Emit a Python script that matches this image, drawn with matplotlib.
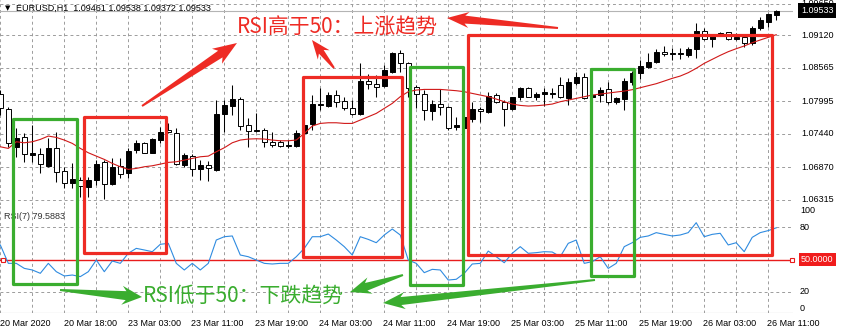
import numpy as np
import matplotlib
matplotlib.use("Agg")
import matplotlib.pyplot as plt
from matplotlib.patches import Rectangle, Polygon
from matplotlib.transforms import blended_transform_factory

plt.rcParams['font.family'] = ['Liberation Sans', 'DejaVu Sans']

# EURUSD H1 K线数据
opens = [1.08116, 1.07855, 1.07220, 1.07390, 1.07084, 1.07096, 1.06897, 1.07192, 1.06812, 1.06596,
         1.06653, 1.06540, 1.06653, 1.06954, 1.06579, 1.06891, 1.06778, 1.07163, 1.07277, 1.07118,
         1.07334, 1.07504, 1.07458, 1.06908, 1.07061, 1.06835, 1.06908, 1.06823, 1.07770, 1.07918,
         1.08025, 1.07583, 1.07487, 1.07504, 1.07294, 1.07305, 1.07232, 1.07237, 1.07447, 1.07606,
         1.07923, 1.07912, 1.08099, 1.07997, 1.07872, 1.07770, 1.08337, 1.08280, 1.08252, 1.08496,
         1.08808, 1.08638, 1.08229, 1.08116, 1.07833, 1.07940, 1.07901, 1.07549, 1.07532, 1.07691,
         1.07861, 1.07804, 1.08099, 1.07974, 1.07855, 1.08059, 1.08212, 1.08071, 1.08110, 1.08122,
         1.08269, 1.08042, 1.08309, 1.08411, 1.08059, 1.08099, 1.08195, 1.07974, 1.08031, 1.08326,
         1.08468, 1.08581, 1.08655, 1.08825, 1.08796, 1.08796, 1.08779, 1.08876, 1.09193, 1.09046,
         1.09131, 1.09165, 1.09046, 1.09080, 1.08978, 1.09233, 1.09346, 1.09461]
highs = [1.08184, 1.07901, 1.07532, 1.07447, 1.07589, 1.07192, 1.07362, 1.07475, 1.06880, 1.06937,
         1.06710, 1.06710, 1.06993, 1.06993, 1.07022, 1.07022, 1.07192, 1.07334, 1.07305, 1.07362,
         1.07560, 1.07617, 1.07532, 1.07107, 1.07096, 1.06993, 1.06976, 1.08014, 1.08014, 1.08269,
         1.08071, 1.07702, 1.07787, 1.07532, 1.07475, 1.07334, 1.07334, 1.07504, 1.07617, 1.08099,
         1.08212, 1.08156, 1.08184, 1.08071, 1.08014, 1.08638, 1.08456, 1.08439, 1.08609, 1.08836,
         1.08864, 1.08666, 1.08269, 1.08184, 1.08014, 1.08195, 1.07912, 1.07730, 1.07759, 1.07986,
         1.07901, 1.08144, 1.08139, 1.08014, 1.08071, 1.08241, 1.08229, 1.08156, 1.08212, 1.08212,
         1.08411, 1.08383, 1.08496, 1.08479, 1.08110, 1.08241, 1.08326, 1.08071, 1.08383, 1.08513,
         1.08694, 1.08819, 1.08876, 1.08933, 1.08893, 1.08893, 1.08921, 1.09318, 1.09233, 1.09120,
         1.09176, 1.09176, 1.09148, 1.09091, 1.09273, 1.09431, 1.09500, 1.09538]
lows = [1.07759, 1.07220, 1.07050, 1.06965, 1.06965, 1.06767, 1.06880, 1.06625, 1.06512, 1.06512,
        1.06370, 1.06370, 1.06568, 1.06330, 1.06568, 1.06681, 1.06681, 1.07107, 1.07107, 1.07107,
        1.07277, 1.07447, 1.06908, 1.06880, 1.06721, 1.06653, 1.06642, 1.06812, 1.07475, 1.07759,
        1.07504, 1.07220, 1.07475, 1.07220, 1.07220, 1.07220, 1.07192, 1.07220, 1.07419, 1.07504,
        1.07844, 1.07901, 1.07901, 1.07844, 1.07759, 1.07759, 1.08195, 1.08071, 1.08241, 1.08479,
        1.08496, 1.08071, 1.07872, 1.07674, 1.07674, 1.07759, 1.07504, 1.07504, 1.07447, 1.07645,
        1.07645, 1.07787, 1.07957, 1.07577, 1.07844, 1.08014, 1.08059, 1.08014, 1.07912, 1.08042,
        1.08042, 1.07929, 1.08269, 1.08031, 1.08042, 1.07986, 1.07946, 1.07946, 1.07844, 1.08269,
        1.08371, 1.08553, 1.08638, 1.08768, 1.08694, 1.08706, 1.08751, 1.08723, 1.09035, 1.08910,
        1.09103, 1.09035, 1.09035, 1.08921, 1.08950, 1.09205, 1.09250, 1.09372]
closes = [1.07872, 1.07277, 1.07362, 1.07096, 1.07107, 1.06925, 1.07192, 1.06795, 1.06596, 1.06670,
          1.06551, 1.06653, 1.06925, 1.06585, 1.06880, 1.06755, 1.07152, 1.07288, 1.07118, 1.07345,
          1.07475, 1.07470, 1.06920, 1.07078, 1.06835, 1.06908, 1.06863, 1.07770, 1.07929, 1.08025,
          1.07572, 1.07487, 1.07504, 1.07305, 1.07243, 1.07232, 1.07249, 1.07458, 1.07589, 1.07946,
          1.07940, 1.08099, 1.07986, 1.07872, 1.07770, 1.08337, 1.08280, 1.08241, 1.08524, 1.08808,
          1.08638, 1.08212, 1.08116, 1.07844, 1.07946, 1.07901, 1.07532, 1.07589, 1.07730, 1.07855,
          1.07827, 1.08088, 1.07974, 1.07861, 1.08071, 1.08212, 1.08071, 1.08116, 1.08150, 1.08133,
          1.08059, 1.08326, 1.08411, 1.08054, 1.08099, 1.08184, 1.07986, 1.08042, 1.08343, 1.08479,
          1.08592, 1.08666, 1.08836, 1.08791, 1.08808, 1.08808, 1.08876, 1.09193, 1.09046, 1.09103,
          1.09148, 1.09046, 1.09091, 1.08989, 1.09233, 1.09375, 1.09477, 1.09533]
ma = [1.07220, 1.07192, 1.07305, 1.07288, 1.07305, 1.07345, 1.07402, 1.07379, 1.07334, 1.07277,
      1.07192, 1.07118, 1.07061, 1.07005, 1.06937, 1.06880, 1.06835, 1.06852, 1.06880, 1.06897,
      1.06925, 1.06954, 1.06965, 1.06993, 1.07022, 1.07050, 1.07061, 1.07135, 1.07203, 1.07288,
      1.07334, 1.07351, 1.07356, 1.07351, 1.07334, 1.07322, 1.07322, 1.07334, 1.07447, 1.07572,
      1.07617, 1.07628, 1.07628, 1.07617, 1.07617, 1.07674, 1.07730, 1.07787, 1.07872, 1.07957,
      1.08071, 1.08156, 1.08184, 1.08195, 1.08195, 1.08195, 1.08184, 1.08173, 1.08156, 1.08127,
      1.08099, 1.08071, 1.08031, 1.07986, 1.07946, 1.07923, 1.07912, 1.07918, 1.07929, 1.07946,
      1.07986, 1.08014, 1.08042, 1.08071, 1.08099, 1.08116, 1.08133, 1.08150, 1.08167, 1.08190,
      1.08224, 1.08258, 1.08292, 1.08337, 1.08383, 1.08422, 1.08479, 1.08553, 1.08638, 1.08706,
      1.08774, 1.08836, 1.08887, 1.08933, 1.08989, 1.09035, 1.09080, 1.09125]
rsi = [63.6, 46.4, 46.4, 41.7, 40.2, 37.1, 46.4, 38.6, 34.6, 35.5,
       34.0, 38.6, 49.5, 38.6, 48.6, 46.4, 55.8, 60.4, 58.9, 57.3,
       64.2, 65.1, 46.4, 40.2, 46.4, 40.2, 46.4, 68.2, 71.3, 72.0,
       54.2, 52.6, 49.5, 46.4, 45.8, 46.4, 46.4, 52.6, 60.4, 71.3,
       71.3, 73.8, 68.2, 62.0, 54.2, 71.3, 68.8, 65.7, 72.9, 78.5,
       72.9, 49.5, 46.4, 37.7, 40.8, 40.2, 30.8, 31.5, 37.1, 45.8,
       46.4, 57.9, 52.6, 47.0, 55.8, 62.0, 55.8, 56.4, 57.3, 57.0,
       52.6, 65.1, 68.2, 46.4, 48.0, 52.6, 41.7, 46.4, 62.0, 65.7,
       70.7, 72.0, 75.1, 73.5, 72.0, 72.9, 75.1, 84.4, 71.3, 73.5,
       74.5, 63.6, 65.7, 57.3, 70.7, 75.1, 77.0, 79.6]
xlabels = ['20 Mar 2020', '20 Mar 18:00', '23 Mar 03:00', '23 Mar 11:00', '23 Mar 19:00',
           '24 Mar 03:00', '24 Mar 11:00', '24 Mar 19:00', '25 Mar 03:00', '25 Mar 11:00',
           '25 Mar 19:00', '26 Mar 03:00', '26 Mar 11:00']
price_levels = [1.09650, 1.09120, 1.08565, 1.07995, 1.07440, 1.06870, 1.06315]
rsi_grid = [80, 20]
rsi_mid = 50
last_price = 1.09533
title = 'EURUSD,H1  1.09461 1.09538 1.09372 1.09533'
rsi_title = 'RSI(7) 79.5883'

W, H = 841, 333
RED = '#ee2b24'
GREEN = '#3aad2f'
GRID = '#9c9c9c'

fig = plt.figure(figsize=(W / 100, H / 100), dpi=100)
ax = fig.add_axes([0, (H - 205) / H, 793 / W, 205 / H])
ax2 = fig.add_axes([0, (H - 313) / H, 793 / W, 107 / H])

n = len(closes)
x = np.arange(n)
o = np.array(opens)
c = np.array(closes)

for a in (ax, ax2):
    a.set_xlim(-0.04, 99.1)
    for s in a.spines.values():
        s.set_visible(False)
    a.set_xticks([])
    a.set_yticks([])
    for k in range(0, 100, 4):
        a.axvline(k, color=GRID, lw=0.7, ls=(0, (3, 3)), zorder=0)
ax.set_ylim(1.06230, 1.09715)
ax2.set_ylim(0, 100)
ax2.axhline(0, color=GRID, lw=0.8, zorder=0)

for lv in price_levels:
    ax.axhline(lv, color=GRID, lw=0.7, ls=(0, (3, 3)), zorder=0)
for lv in rsi_grid:
    ax2.axhline(lv, color=GRID, lw=0.7, ls=(0, (3, 3)), zorder=0)

# 蜡烛图
up = c >= o
ax.vlines(x, lows, highs, color='black', lw=0.75, zorder=2)
body = np.maximum(np.abs(c - o), 0.00002)
ax.bar(x, body, bottom=np.minimum(o, c), width=0.62,
       color=np.where(up, 'black', 'white'), edgecolor='black', lw=0.7, zorder=3)
ax.plot(x, ma, color='#d01818', lw=0.8, zorder=4)
ax.axhline(last_price, color='#b4b4b4', lw=0.8, zorder=1)

# RSI
ax2.plot(x, rsi, color='#2f8be0', lw=0.8, zorder=3)
ax2.axhline(rsi_mid, color='#e81c1c', lw=1.0, zorder=2)
ax2.plot([0.35, 98.95], [rsi_mid, rsi_mid], 's', mfc='white', mec='#e81c1c',
         ms=3.5, mew=0.8, clip_on=False, zorder=4)

# 右侧坐标
tr = blended_transform_factory(ax.transAxes, ax.transData)
for lv in price_levels:
    ax.text(801 / 793, lv, f'{lv:.5f}', transform=tr, ha='left', va='center',
            fontsize=6.5, clip_on=False)
ax.text(801 / 793, last_price, f'{last_price:.5f}', transform=tr, ha='left', va='center',
        fontsize=6.5, color='white', clip_on=False, zorder=6,
        bbox=dict(boxstyle='square,pad=0.3', fc='black', ec='none'))

tr2 = blended_transform_factory(ax2.transAxes, ax2.transData)
ax2.text(800 / 793, 100, '100', transform=tr2, ha='left', va='top', fontsize=6.5, clip_on=False)
for lv in rsi_grid:
    ax2.text(800 / 793, lv, str(lv), transform=tr2, ha='left', va='center', fontsize=6.5, clip_on=False)
ax2.text(800 / 793, 0, '0', transform=tr2, ha='left', va='bottom', fontsize=6.5, clip_on=False)
ax2.text(801 / 793, rsi_mid, f'{rsi_mid:.4f}', transform=tr2, ha='left', va='center',
         fontsize=6.5, color='white', clip_on=False,
         bbox=dict(boxstyle='square,pad=0.25', fc='#f01c1c', ec='none'))
ax2.text(0.005, 0.9, rsi_title, transform=ax2.transAxes, ha='left', va='center',
         fontsize=6.5, color='#333333')

# 时间轴
trx = blended_transform_factory(ax2.transData, ax2.transAxes)
for k, lab in enumerate(xlabels):
    ax2.text(k * 8 - 0.1, -0.095, lab, transform=trx, ha='left', va='center',
             fontsize=6.5, clip_on=False)

# 标注层（像素坐标）
ov = fig.add_axes([0, 0, 1, 1])
ov.set_xlim(0, W)
ov.set_ylim(H, 0)
ov.axis('off')
ov.patch.set_alpha(0)

ov.text(5, 8, '▼', fontsize=5, ha='left', va='center', family=['DejaVu Sans'])
ov.text(16, 8, title, fontsize=6.5, ha='left', va='center')


def fat_arrow(x0, y0, x1, y1, tw, sw, hw, hl, color):
    d = np.array([x1 - x0, y1 - y0], float)
    L = np.hypot(*d)
    d /= L
    nrm = np.array([-d[1], d[0]])
    p0 = np.array([x0, y0], float)
    b = p0 + d * (L - hl)
    pts = [p0 + nrm * tw / 2, b + nrm * sw / 2, b - d * 4 + nrm * hw / 2, np.array([x1, y1]),
           b - d * 4 - nrm * hw / 2, b - nrm * sw / 2, p0 - nrm * tw / 2]
    ov.add_patch(Polygon(pts, closed=True, fc=color, ec='none', zorder=10))


red_boxes = [(84, 117, 166, 253), (303, 77, 402, 257), (468, 35, 772, 255)]
green_boxes = [(13, 119, 77, 284), (410, 67, 463, 285), (591, 69, 634, 276)]
for (x0, y0, x1, y1) in red_boxes:
    ov.add_patch(Rectangle((x0, y0), x1 - x0, y1 - y0, fill=False, ec=RED, lw=2.3,
                           joinstyle='round', zorder=9))
for (x0, y0, x1, y1) in green_boxes:
    ov.add_patch(Rectangle((x0, y0), x1 - x0, y1 - y0, fill=False, ec=GREEN, lw=2.3,
                           joinstyle='round', zorder=9))

fat_arrow(142, 106, 237, 43, 2, 8, 18, 20, RED)
fat_arrow(334, 68, 312, 40, 2, 6, 15, 15, RED)
fat_arrow(558, 28, 447, 18, 2, 8, 16, 18, RED)
fat_arrow(60, 290, 142, 297, 2, 9, 19, 16, GREEN)
fat_arrow(403, 275, 350, 292, 2, 8, 17, 17, GREEN)
fat_arrow(595, 280, 383, 303, 2, 8, 17, 18, GREEN)

ov.text(237, 28, 'RSI高于50：上涨趋势', color=RED, fontsize=15, ha='left', va='center',
        family=['Noto Sans CJK SC'], zorder=11)
ov.text(143, 296, 'RSI低于50：下跌趋势', color=GREEN, fontsize=15, ha='left', va='center',
        family=['Noto Sans CJK SC'], zorder=11)

fig.savefig('out.png', dpi=100)
